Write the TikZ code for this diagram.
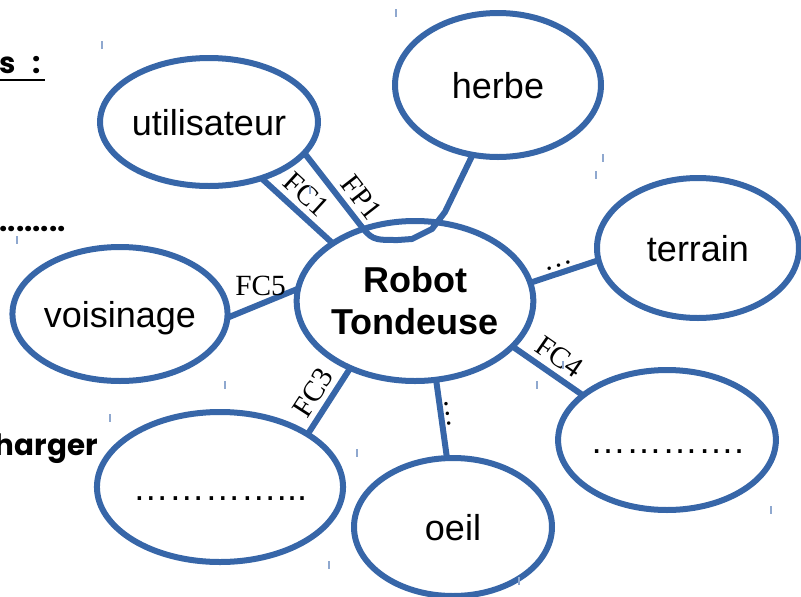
\documentclass[tikz,border=0pt]{standalone}
\usepackage{fontspec}
\setmainfont{Liberation Serif}
\newfontfamily\ovalfont{Liberation Sans}
\newfontfamily\notefont{Poppins}
\usetikzlibrary{
  shapes.geometric,
  positioning
}
\definecolor{ovalblue}{HTML}{3766A8}
\definecolor{tickblue}{HTML}{8FA8CF}
\definecolor{textprimary}{HTML}{000000}
\tikzset{
  ovalbase/.style={
    ellipse,
    draw=ovalblue,
    line width=4.5pt,
    inner sep=0pt,
    outer sep=0pt,
    text=textprimary,
    align=center,
    font=\ovalfont\fontsize{27}{31.5}\selectfont,
  },
  oval/.style={
    ovalbase,
    text height=26pt,
    text depth=5.4pt,
  },
  link/.style={
    draw=ovalblue,
    line width=4.5pt,
    line join=round,
  },
  fclabel/.style={
    font=\fontsize{22}{26}\selectfont,
    inner sep=4pt,
  },
  dotlabel/.style={
    font=\fontsize{22}{26}\selectfont,
    inner sep=2pt,
  },
  note/.style={
    font=\notefont\bfseries\fontsize{22}{26}\selectfont,
    inner sep=0pt,
  },
  smalltick/.style={
    draw=tickblue,
    line width=1.2pt,
  },
}

\begin{document}
\begin{tikzpicture}[x=0.75pt, y=-0.75pt]

\useasboundingbox (0,0) rectangle (801,597);

% === Centre: Robot Tondeuse ===

\node[ovalbase, minimum width=168pt, minimum height=120pt,
      font=\ovalfont\bfseries\fontsize{27}{31.5}\selectfont]
  (robot) at (415,301) {Robot\\Tondeuse};

% === Outer ovals ===

\node[oval, minimum width=162pt, minimum height=96pt]
  (util) at (209,122) {utilisateur};

\node[oval, minimum width=154.5pt, minimum height=108pt]
  (herbe) at (498,85) {herbe};

\node[oval, minimum width=151.5pt, minimum height=105pt]
  (terrain) at (698,248) {terrain};

\node[oval, minimum width=157.5pt, minimum height=100.5pt]
  (voisin) at (120,314) {voisinage};

\node[oval, minimum width=160.5pt, minimum height=112.5pt]
  (blank1) at (220,487) {…………...};

\node[oval, minimum width=148.5pt, minimum height=103.5pt]
  (oeil) at (453,527) {oeil};

\node[oval, minimum width=153pt, minimum height=105pt]
  (blank2) at (667,440) {………….};

% === Links ===

% FP1 goes through the robot
\draw[link] (util.-18)
  -- node[fclabel, sloped, above, pos=0.8] {FP1} (358,222)
  .. controls (372,240) .. (398,240) -- (412,239) -- (432,229) -- (445,212)
  -- (herbe.250);

\draw[link] (util.-47) -- node[fclabel, sloped, above, pos=0.46] {FC1} (robot.145);
\draw[link] (voisin.-2) -- node[fclabel, above, pos=0.47] {FC5} (robot.174);
\draw[link] (blank1.31) -- node[fclabel, sloped, above, pos=0.48] {FC3} (robot.226);
\draw[link] (robot.-75) -- node[dotlabel, sloped, above, pos=0.45] {…} (oeil.95);
\draw[link] (robot.-25) -- node[fclabel, sloped, above, pos=0.52] {FC4} (blank2.152);
\draw[link] (robot.9) -- node[dotlabel, sloped, above, pos=0.45] {…} (terrain.187);

% === Cut text on the left ===

\node[note, anchor=base east]
  (sfrag) at (41,73) {s\hspace{0.55em}:};
\draw[line width=2.2pt] (0,80) -- ([xshift=3pt]sfrag.east |- 0,80);

\node[note, anchor=base east]
  (dotfrag) at (66,231) {.........};

\node[note, anchor=base east]
  (chfrag) at (98,455) {harger};

% === Scan marks ===

\foreach \tx/\ty in {102/45, 396/13, 603/158, 596/175, 225/385, 17/240,
                     563/365, 537/385, 357/453, 329/565, 310/190, 110/418,
                     771/510, 519/581}
  \draw[smalltick] (\tx,\ty-4) -- (\tx,\ty+4);

\end{tikzpicture}
\end{document}
